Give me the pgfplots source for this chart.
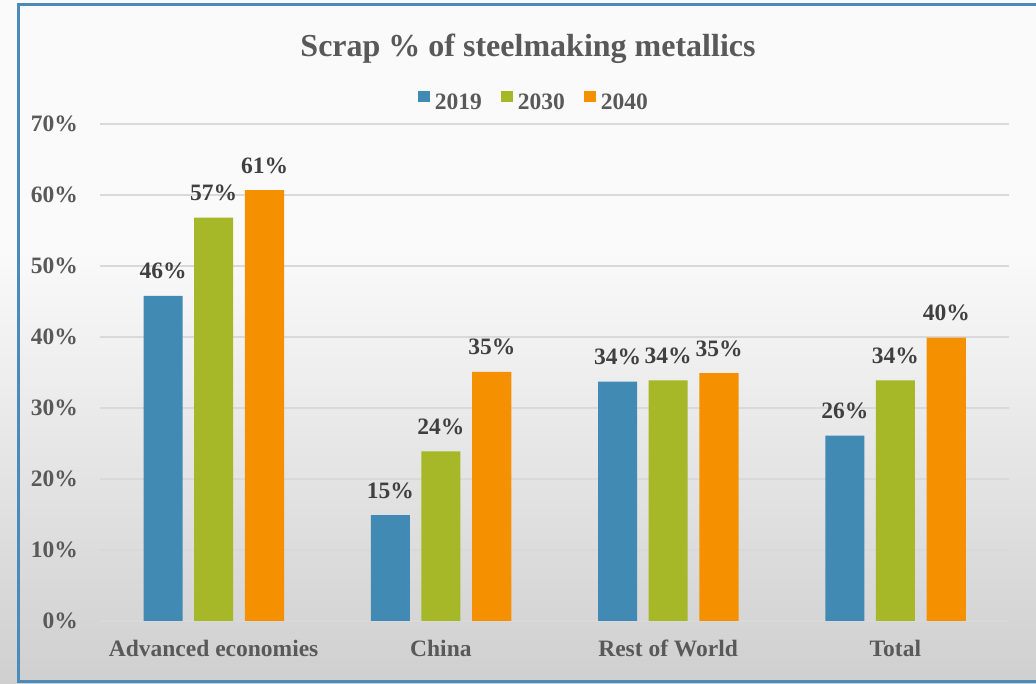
\documentclass[border=0pt]{standalone}
\usepackage{pgfplots}
\pgfplotsset{compat=1.18}
\usepackage{fontspec}
\setmainfont{Liberation Serif}

\definecolor{c19}{HTML}{418AB3}
\definecolor{c30}{HTML}{A6B727}
\definecolor{c40}{HTML}{F59100}
\definecolor{txt}{HTML}{595959}
\definecolor{lbl}{HTML}{404040}
\definecolor{gridc}{HTML}{D9D9D9}
\definecolor{framec}{HTML}{4A8BBA}
\definecolor{bgtop}{HTML}{FAFAFA}
\definecolor{bgbot}{HTML}{CFCFCF}

\newcommand{\smallbold}{\fontsize{23.5bp}{28bp}\selectfont\bfseries}

\begin{document}
\begin{tikzpicture}
\useasboundingbox (0bp,0bp) rectangle (1036bp,684bp);
% background: plain at the top, fading to grey towards the bottom
\fill[bgtop] (0bp,430bp) rectangle (1036bp,684bp);
\shade[top color=bgtop, bottom color=bgbot] (0bp,0bp) rectangle (1036bp,434bp);
\draw[framec, line width=3bp] (18bp,2bp) rectangle (1050bp,679bp);

\node[anchor=base, text=txt, font=\fontsize{32bp}{38bp}\selectfont\bfseries]
  at (528bp,627bp) {Scrap \% of steelmaking metallics};

\begin{axis}[
  at={(100bp,63bp)}, anchor=south west,
  scale only axis, width=909bp, height=497bp,
  xmin=-0.5, xmax=3.5, ymin=0, ymax=70,
  axis line style={draw=none},
  tick style={draw=none},
  /pgf/number format/assume math mode=true,
  ytick={0,10,...,70},
  yticklabel={\pgfmathprintnumber{\tick}\%},
  yticklabel style={anchor=east, inner sep=0pt, xshift=-22bp},
  ymajorgrids, grid style={gridc, line width=1.2bp},
  xtick={0,1,2,3},
  xticklabels={Advanced economies, China, Rest of World, Total},
  xticklabel style={anchor=base, inner sep=0pt, yshift=-36bp},
  ticklabel style={font=\smallbold, text=txt},
  bar width=0.172,
  nodes near coords={\pgfmathprintnumber[fixed,precision=0]{\pgfplotspointmeta}\%},
  every node near coord/.append style={anchor=base, inner sep=0pt, yshift=17bp,
    font=\smallbold, text=lbl},
  legend columns=3,
  legend style={at={(0.4763,1.0463)}, anchor=center, draw=none, fill=none,
    font=\smallbold, text=txt, inner sep=0pt,
    nodes={inner sep=0pt},
    /tikz/every odd column/.append style={column sep=5bp},
    /tikz/every even column/.append style={column sep=19bp}},
  legend image code/.code={\fill[#1] (0bp,0bp) rectangle (12bp,11bp);},
]
% 2019
\addplot[ybar, bar shift=-0.222, fill=c19, draw=none,
  every node near coord/.append style={xshift=-50.45bp}]
  coordinates {(0,45.8) (1,14.9) (2,33.7) (3,26.1)};
% 2030
\addplot[ybar, bar shift=0, fill=c30, draw=none]
  coordinates {(0,56.8) (1,23.9) (2,33.9) (3,33.9)};
% 2040
\addplot[ybar, bar shift=0.224, fill=c40, draw=none,
  every node near coord/.append style={xshift=50.9bp}]
  coordinates {(0,60.7) (1,35.1) (2,34.9) (3,39.9)};
\legend{2019,2030,2040}
\end{axis}
\end{tikzpicture}
\end{document}
